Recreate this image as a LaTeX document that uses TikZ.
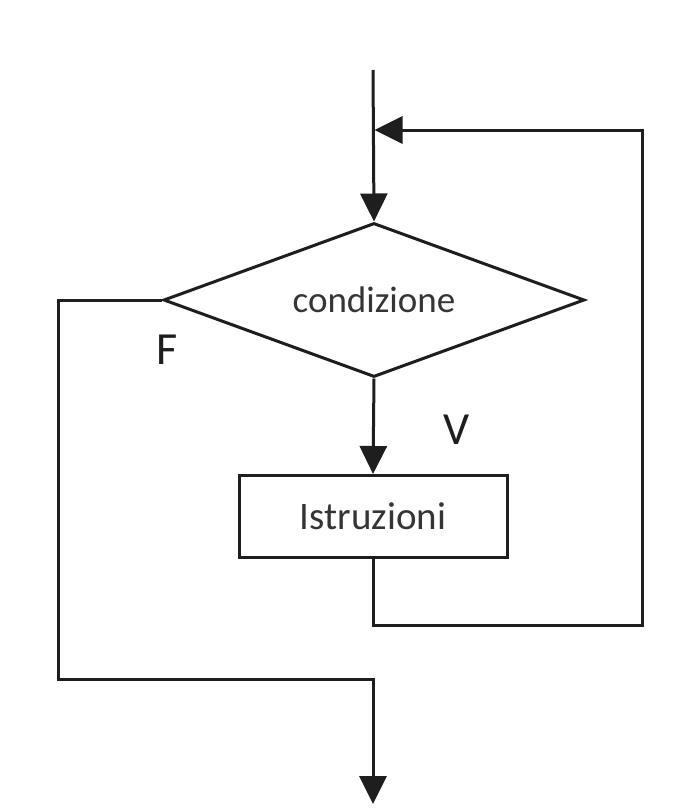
\documentclass[tikz,border=0pt]{standalone}
\usepackage{fontspec}
\setmainfont{Carlito}
\usetikzlibrary{arrows.meta,shapes.geometric}
\definecolor{linecol}{HTML}{1E1E1E}
\definecolor{textcol}{HTML}{353535}
\begin{document}
\begin{tikzpicture}[x=1pt,y=-1pt,
  conn/.style={draw=linecol,line width=3pt},
  arr/.style={conn,-{Triangle[length=28pt,width=27pt]}},
  decision/.style={diamond,draw=linecol,line width=3pt,minimum width=421pt,minimum height=154pt,inner sep=0pt,aspect=2.73,text=textcol,font=\fontsize{37}{40}\selectfont},
  process/.style={rectangle,draw=linecol,line width=3pt,minimum width=268pt,minimum height=82pt,inner sep=0pt,text=textcol,font=\fontsize{39}{42}\selectfont},
  lbl/.style={text=linecol,font=\fontsize{46}{50}\selectfont,inner sep=0pt}]
\useasboundingbox[fill=white] (0,0) rectangle (686,808);
\node[decision] (dec) at (374,300) {condizione};
\node[process] (box) at (373,516.5) {Istruzioni};
\coordinate (start) at (373,70);
\coordinate (join) at (374.5,130);
\coordinate (rtop) at (642,130);
\coordinate (rbot) at (642,625);
\coordinate (bbot) at (373,625);
\coordinate (ltop) at (58,300);
\coordinate (lbot) at (58,679);
\coordinate (mbot) at (373,679);
\coordinate (finish) at (373,804);
\node[lbl] (F) at (167,350) {F};
\node[lbl] (V) at (457,430) {V};
\draw[arr] (start) -- (dec.north);
\draw[arr] (dec.south) -- (box.north);
\draw[arr] (box.south) -- (bbot) -- (rbot) -- (rtop) -- (join);
\draw[arr] (dec.west) -- (ltop) -- (lbot) -- (mbot) -- (finish);
\end{tikzpicture}
\end{document}
